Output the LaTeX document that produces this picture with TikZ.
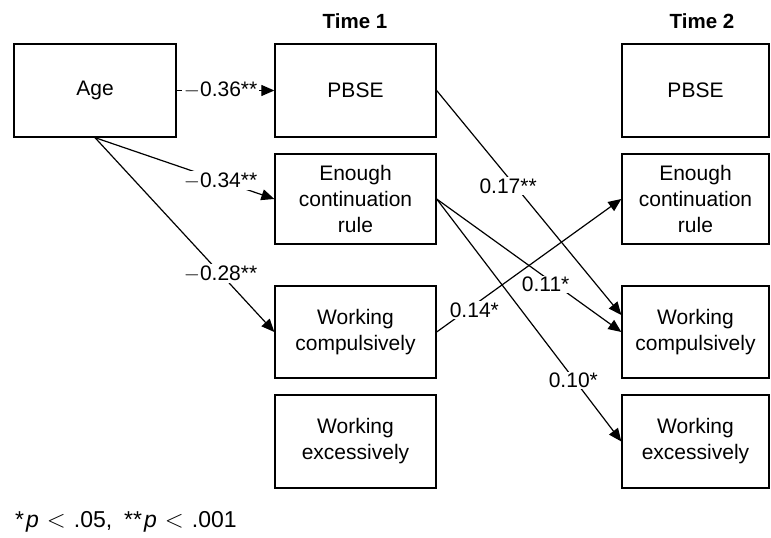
\documentclass[tikz,border=0pt]{standalone}
\usepackage{fontspec}
\setmainfont{Liberation Sans}
\usetikzlibrary{arrows.meta}
\begin{document}
\begin{tikzpicture}[x=1pt,y=-1pt,
  box/.style={draw, line width=1.3pt, align=center, inner sep=0pt,
    font=\fontsize{21}{26}\selectfont},
  t1box/.style={box, minimum width=161pt},
  t2box/.style={box, minimum width=147pt},
  arr/.style={line width=1.2pt, -{Triangle[length=13pt,width=11pt]}},
  lab/.style={fill=white, inner sep=1.5pt, font=\fontsize{21}{26}\selectfont},
  ttl/.style={font=\fontsize{20.5}{26}\selectfont\bfseries}]
\useasboundingbox (0,0) rectangle (771,538);
% boxes
\node[box, minimum width=162pt, minimum height=93pt] (age) at (95,90.5) {Age};
\node[t1box, minimum height=93pt] (p1) at (355.5,90.5) {PBSE};
\node[t1box, minimum height=90pt] (e1) at (355.5,199) {Enough\\continuation\\rule};
\node[t1box, minimum height=92pt] (c1) at (355.5,332) {Working\\compulsively};
\node[t1box, minimum height=93pt] (x1) at (355.5,441.5) {Working\\excessively};
\node[t2box, minimum height=93pt] (p2) at (695.5,90.5) {PBSE};
\node[t2box, minimum height=90pt] (e2) at (695.5,199) {Enough\\continuation\\rule};
\node[t2box, minimum height=92pt] (c2) at (695.5,332) {Working\\compulsively};
\node[t2box, minimum height=93pt] (x2) at (695.5,441.5) {Working\\excessively};
% titles
\node[ttl] (time1) at (355,21) {Time 1};
\node[ttl] (time2) at (702,21) {Time 2};
% paths
\draw[arr] (age.east) -- node[lab, pos=0.45] {$-$0.36**} (p1.west);
\draw[arr] (age.south) -- node[lab, pos=0.7] {$-$0.34**} (e1.west);
\draw[arr] (age.south) -- node[lab, pos=0.7] {$-$0.28**} (c1.west);
\coordinate (c2a) at ([yshift=17pt]c2.west);
\draw[arr] (p1.east) -- node[lab, pos=0.387, yshift=-9pt] {0.17**} (c2a);
\draw[arr] (e1.east) -- node[lab, pos=0.59, yshift=-7pt] {0.11*} (c2.west);
\draw[arr] (e1.east) -- node[lab, pos=0.74, yshift=-2pt] {0.10*} (x2.west);
\draw[arr] (c1.east) -- node[lab, pos=0.204, yshift=-5pt] {0.14*} (e2.west);
% footnote
\node[anchor=west, inner sep=0pt, font=\fontsize{23}{28}\selectfont] (note) at (15,522)
  {*\kern2pt\textit{p}\kern8pt$<$\kern8pt.05,\kern12pt**\kern2pt\textit{p}\kern8pt$<$\kern8pt.001};
\end{tikzpicture}
\end{document}
